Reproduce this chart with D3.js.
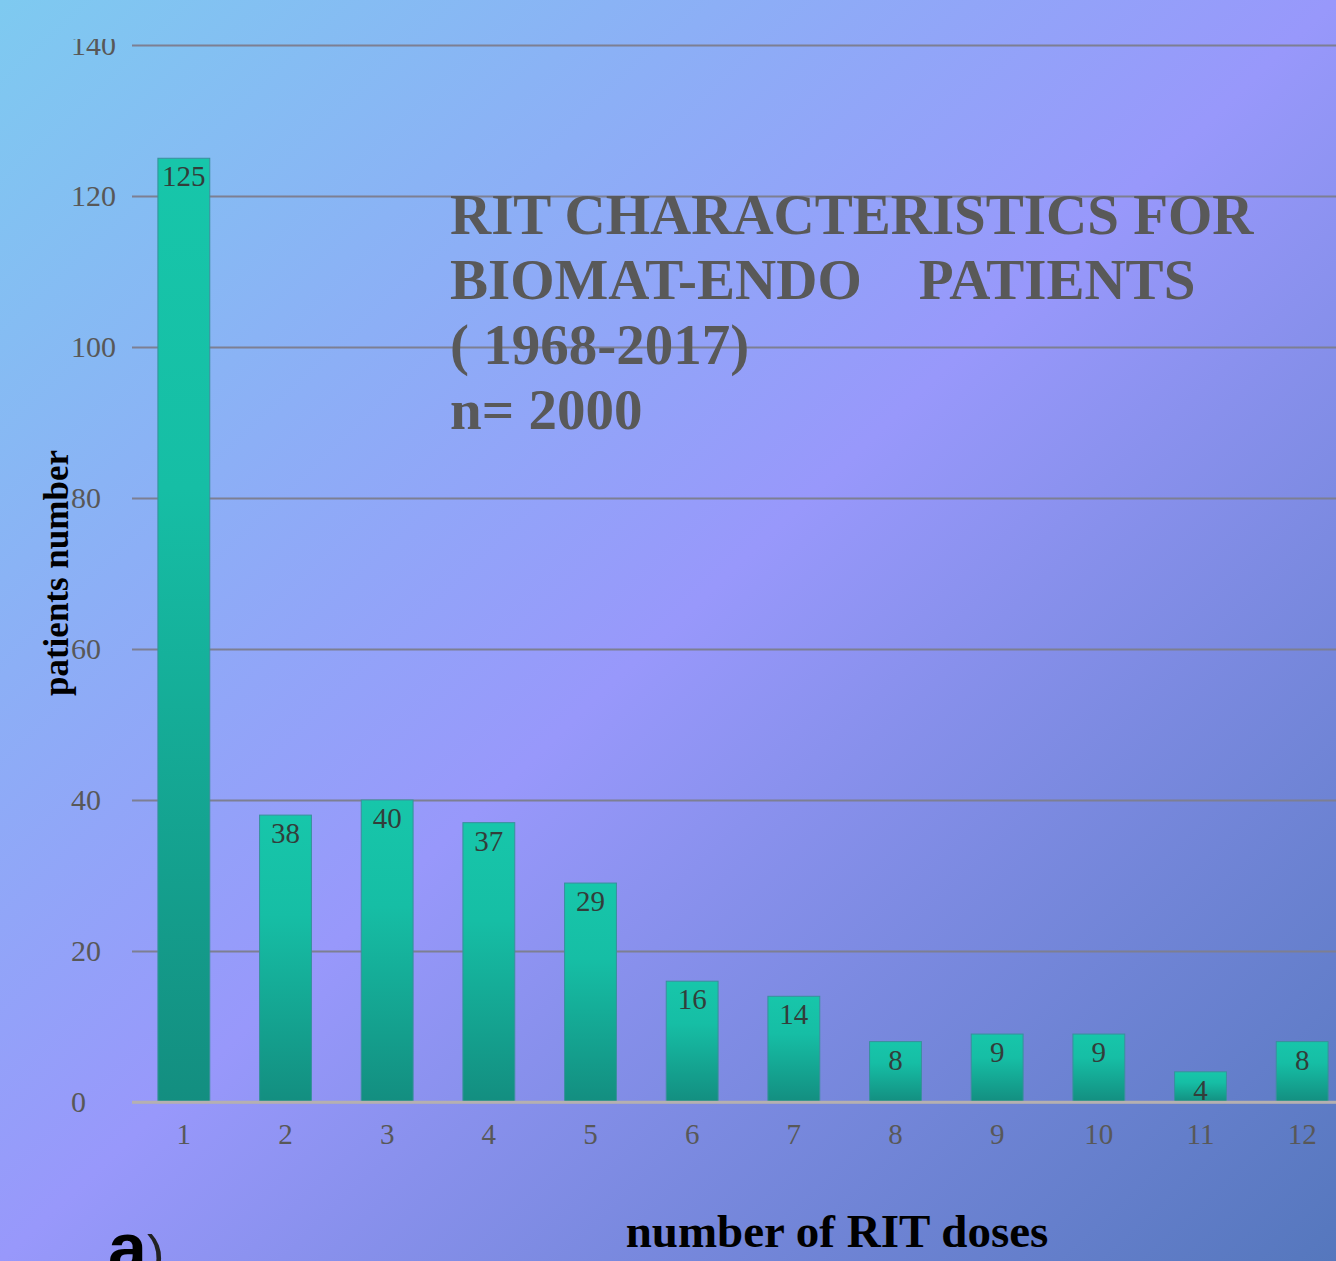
<!DOCTYPE html>
<html>
<head>
<meta charset="utf-8">
<script src="https://cdn.jsdelivr.net/npm/d3@7"></script>
<style>
  html, body { margin: 0; padding: 0; overflow: hidden; }
  svg { display: block; }
</style>
</head>
<body>
<svg id="chart" width="1336" height="1261"></svg>
<script>
const categories = ["1","2","3","4","5","6","7","8","9","10","11","12"];
const patients = [125, 38, 40, 37, 29, 16, 14, 8, 9, 9, 4, 8];
const yTicks = [0, 20, 40, 60, 80, 100, 120, 140];
const titleLines = ["RIT CHARACTERISTICS FOR", "BIOMAT-ENDO    PATIENTS", "( 1968-2017)", "n= 2000"];
const xTitle = "number of RIT doses";
const yTitle = "patients number";
const panelLabel = "a";

const W = 1336, H = 1261;
const svg = d3.select("#chart");
const defs = svg.append("defs");

const bg = defs.append("linearGradient").attr("id", "bg")
  .attr("x1", 0).attr("y1", 0).attr("x2", 1).attr("y2", 1);
bg.append("stop").attr("offset", 0).attr("stop-color", "#7ecaf0");
bg.append("stop").attr("offset", 0.5).attr("stop-color", "#9898fb");
bg.append("stop").attr("offset", 1).attr("stop-color", "#5577bd");

const barGrad = defs.append("linearGradient").attr("id", "barg")
  .attr("x1", 0).attr("y1", 0).attr("x2", 0).attr("y2", 1);
barGrad.append("stop").attr("offset", 0).attr("stop-color", "#17c6aa");
barGrad.append("stop").attr("offset", 0.35).attr("stop-color", "#16bea5");
barGrad.append("stop").attr("offset", 1).attr("stop-color", "#138e80");

defs.append("clipPath").attr("id", "topclip")
  .append("rect").attr("x", -300).attr("y", 39).attr("width", W + 300).attr("height", H);

svg.append("rect").attr("width", W).attr("height", H).attr("fill", "url(#bg)");

const x = d3.scaleBand().domain(categories).range([133, 1353])
  .paddingInner(0.49).paddingOuter(0.245);
const y = d3.scaleLinear().domain([0, 140]).range([1102, 45]);

const serif = "'Liberation Serif', 'Times New Roman', serif";

// gridlines + y tick labels
const yAxis = d3.axisLeft(y).tickValues(yTicks).tickSize(-(W - 132)).tickPadding(14);
const gy = svg.append("g").attr("transform", "translate(132,0)")
  .attr("clip-path", "url(#topclip)").call(yAxis);
gy.select(".domain").remove();
gy.selectAll(".tick line").attr("stroke", "#7d7f92").attr("stroke-width", 2.2)
  .filter(d => d === 0).attr("stroke", "#b5b0b0").attr("stroke-width", 2.5);
gy.selectAll(".tick text").attr("fill", "#585858")
  .attr("x", -61).attr("text-anchor", "start")
  .style("font-family", serif).style("font-size", "30px");

// x axis labels
const xAxis = d3.axisBottom(x).tickSize(0).tickPadding(21);
const gx = svg.append("g").attr("transform", "translate(0,1102)").call(xAxis);
gx.select(".domain").remove();
gx.selectAll(".tick text").attr("fill", "#585858")
  .style("font-family", serif).style("font-size", "29px");

// bars
svg.append("g").selectAll("rect").data(patients).join("rect")
  .attr("x", (d, i) => x(categories[i]))
  .attr("y", d => y(d))
  .attr("width", x.bandwidth())
  .attr("height", d => y(0) - y(d))
  .attr("fill", "url(#barg)")
  .attr("stroke", "#3a8f9c").attr("stroke-width", 1);

// baseline over bars
svg.append("line").attr("x1", 132).attr("x2", W).attr("y1", y(0)).attr("y2", y(0))
  .attr("stroke", "#b5b0b0").attr("stroke-width", 2.5);

// value labels
svg.append("g").selectAll("text").data(patients).join("text")
  .attr("x", (d, i) => x(categories[i]) + x.bandwidth() / 2)
  .attr("y", d => y(d) + 28)
  .attr("text-anchor", "middle")
  .attr("fill", "#333d3a")
  .style("font-family", serif).style("font-size", "29px")
  .text(d => d);

// title
const t = svg.append("text").attr("x", 450).attr("fill", "#595959")
  .style("font-family", serif).style("font-size", "57px").style("font-weight", "bold")
  .attr("xml:space", "preserve").style("white-space", "pre");
titleLines.forEach((s, i) => {
  t.append("tspan").attr("x", 450).attr("y", 234 + i * 65).text(s);
});

// axis titles
svg.append("text").attr("x", 837).attr("y", 1247).attr("text-anchor", "middle")
  .attr("fill", "#000").style("font-family", serif).style("font-size", "47px")
  .style("font-weight", "bold").text(xTitle);

svg.append("text").attr("transform", "translate(68,573) rotate(-90)")
  .attr("text-anchor", "middle").attr("fill", "#000")
  .style("font-family", serif).style("font-size", "35px")
  .style("font-weight", "bold").text(yTitle);

// panel label
const pl = svg.append("text").attr("x", 108).attr("y", 1272).attr("fill", "#000")
  .style("font-family", "'Liberation Sans', Arial, sans-serif");
pl.append("tspan").style("font-size", "70px").style("font-weight", "bold").text(panelLabel);
pl.append("tspan").style("font-size", "52px").attr("fill", "#222").text(")");
</script>
</body>
</html>
